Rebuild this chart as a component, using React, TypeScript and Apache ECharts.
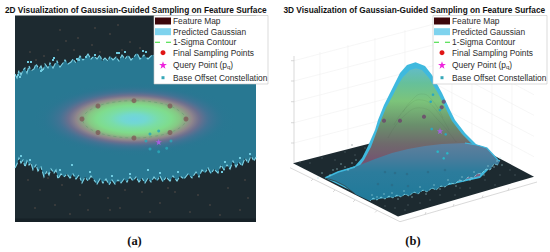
import React, { useEffect, useRef } from "react";
import * as echarts from "echarts";

type P = [number, number];

const titles = [
  "2D Visualization of Gaussian-Guided Sampling on Feature Surface",
  "3D Visualization of Gaussian-Guided Sampling on Feature Surface",
];
const legendNames = [
  "Feature Map",
  "Predicted Gaussian",
  "1-Sigma Contour",
  "Final Sampling Points",
  "Query Point (p_q)",
  "Base Offset Constellation",
];

// ---- panel (a), values in figure units
const mapFrame: P[] = [[15, 15.6], [256, 15.6], [256, 222], [15, 222]];
const mapFoot: P[] = [[15, 218.5], [256, 218.5], [256, 222], [15, 222]];
const upperEdge: P[] = [
  [15, 74], [17, 78], [19, 70], [21, 75], [23, 70], [25, 68], [27, 73], [29, 66], [31, 71], [34, 69], [36, 64], [39, 69], [41, 66],
  [43, 71], [45, 64], [48, 68], [50, 63], [53, 68], [55, 64], [57, 61], [60, 67], [63, 63], [65, 60], [68, 64], [71, 62], [73, 59],
  [76, 63], [78, 60], [80, 56], [83, 60], [86, 57], [88, 54], [91, 59], [94, 56], [97, 59], [100, 55], [102, 61], [105, 58], [108, 61],
  [110, 56], [113, 60], [116, 57], [119, 61], [122, 55], [125, 59], [128, 55], [131, 60], [134, 57], [137, 53], [140, 59], [144, 55], [148, 59],
  [152, 55], [175, 58], [200, 55], [225, 57], [256, 55],
];
const lowerEdge: P[] = [
  [15, 168], [17, 164], [19, 158], [21, 163], [23, 160], [25, 167], [27, 161], [29, 165], [31, 163], [33, 170], [36, 165], [38, 171],
  [41, 167], [44, 177], [47, 171], [49, 175], [51, 169], [54, 173], [56, 170], [58, 179], [61, 174], [64, 177], [67, 174], [70, 178],
  [73, 174], [76, 179], [79, 175], [82, 183], [85, 177], [88, 181], [91, 176], [94, 180], [97, 184], [100, 179], [103, 183], [106, 179],
  [109, 185], [112, 180], [115, 184], [118, 180], [121, 183], [124, 179], [127, 182], [130, 177], [133, 181], [136, 177], [139, 182],
  [142, 178], [145, 183], [148, 178], [151, 182], [154, 177], [157, 181], [160, 176], [163, 182], [166, 177], [170, 181], [173, 176],
  [177, 181], [180, 176], [184, 179], [188, 174], [192, 178], [196, 172], [199, 177], [202, 170], [205, 173], [208, 168], [211, 174],
  [214, 169], [218, 173], [221, 165], [224, 170], [227, 165], [230, 169], [233, 161], [236, 167], [239, 162], [242, 166], [245, 158],
  [248, 163], [251, 156], [254, 161], [256, 157],
];
const gaussianEllipse: number[][] = [[134, 119, 104, 38]];
const gaussianStops: [number, string][] = [
  [0, "#70d3e0"], [0.12, "#72d8d0"], [0.24, "#7adda6"], [0.36, "#7fdc8c"], [0.44, "#86c884"], [0.5, "#8ea486"],
  [0.56, "#90868c"], [0.63, "rgba(125,110,142,0.8)"], [0.72, "rgba(90,110,150,0.5)"], [0.86, "rgba(50,115,148,0.18)"], [1, "rgba(40,120,146,0)"],
];
const sigma2D: P[] = [
  [82, 119], [86, 113], [98, 106], [115, 102], [134, 100.7], [153, 102], [170, 106], [182, 113], [186, 119], [182, 126],
  [170, 132.5], [153, 136.5], [134, 138], [115, 136.5], [98, 132.5], [86, 126], [82, 119],
];
const sampling2D: P[] = [[82, 119], [98, 106], [134, 100.7], [170, 106], [186, 119], [170, 132.5], [134, 138], [98, 132.5]];
const constellation2D: P[] = [[150, 134], [158.7, 131], [146, 141], [171, 141], [150, 149], [158.7, 151.7], [166.7, 148.3]];
const query2D: P[] = [[158.7, 142]];
const islands2D: P[] = [
  [54, 58], [53, 60], [41, 71], [42, 70], [18, 75], [20, 77], [28, 62], [31, 62], [77, 59], [79, 60], [86, 57], [95, 55], [117, 53],
  [119, 53], [143, 51], [146, 52], [125, 52], [72, 165], [148, 170], [160, 173], [178, 172], [225, 162], [250, 154], [240, 158],
  [21, 156], [30, 160], [60, 170], [90, 172], [112, 176], [130, 174], [222, 172],
];
const specks2D: P[] = [
  [30, 52], [58, 50], [78, 38], [92, 45], [110, 34], [130, 42], [74, 50], [122, 50], [100, 52], [140, 48], [66, 41], [44, 56],
  [36, 60], [95, 28], [60, 30], [118, 25], [28, 180], [40, 190], [62, 185], [55, 205], [80, 195], [108, 198], [110, 210],
  [125, 190], [142, 192], [160, 203], [175, 192], [198, 195], [210, 205], [228, 188], [245, 180], [240, 210], [150, 212],
  [88, 210], [70, 214], [35, 208], [190, 212], [220, 215], [120, 208], [168, 188], [48, 178], [248, 198],
];

// ---- panel (b)
const floor3D: P[] = [[293, 163.3], [438, 126], [534, 176.7], [398, 216.5]];
const gaussOuter: P[] = [
  [325, 178], [338, 172], [355, 166], [362, 158], [368, 146], [375, 130], [378, 120], [384, 105], [390, 93], [395, 83],
  [400, 73], [407, 65], [415.5, 62.3], [425, 66], [432, 75], [442, 93], [449, 108], [455, 120], [465, 133], [477, 145],
  [487, 148], [498, 160], [480, 178], [400, 196], [370, 200],
];
const gaussInner: P[] = [
  [340, 175], [358, 168], [364, 160], [371, 147], [377, 131], [381, 120], [386, 108], [392, 97], [398, 85], [403, 77],
  [410, 70], [416, 68.3], [422, 70], [429, 78], [439, 95], [446, 109], [452, 121], [462, 134], [474, 146], [484, 150], [480, 176], [400, 194],
];
const moundTop: P[] = [
  [325, 178], [338, 172], [355, 167], [375, 159], [392, 153], [408, 149], [425, 146], [442, 144], [465, 143], [477, 145], [487, 148], [498, 160], [500, 161],
];
const moundFront: P[] = [
  [498, 165], [494, 164], [490, 170], [486, 169], [482, 173], [477, 174], [473, 178], [468, 177], [464, 181], [459, 180], [455, 184], [450, 183],
  [445, 187], [441, 186], [436, 190], [432, 188], [427, 192], [423, 190], [418, 194], [414, 192], [409, 196], [405, 194], [401, 197], [397, 195],
  [393, 198], [389, 196], [385, 199], [381, 197], [377, 200], [373, 198], [370, 201],
];
const moundBack: P[] = [[355, 194], [345, 186], [335, 181], [325, 178]];
const wallGrid: number[][] = [
  [294, 60.7, 438, 23], [294, 81, 438, 43.7], [294, 101.7, 438, 64.4], [294, 122.7, 438, 85.4], [294, 143, 438, 105.7],
  [438, 23, 534, 74], [438, 43.7, 534, 94.7], [438, 64.4, 534, 115.4], [438, 85.4, 534, 136.4], [438, 105.7, 534, 156.7],
  [320, 52, 320, 156.5], [348, 45, 348, 149], [375, 38, 375, 142], [405, 30, 405, 134.5], [438, 20, 438, 126],
  [452, 26, 452, 133], [472, 37, 472, 144], [492, 48, 492, 155], [512, 58, 512, 165],
];
const axisLines: number[][] = [
  [290, 167.7, 400, 221.7], [400, 221.7, 537, 182], [294, 56, 294, 163],
  [291, 60.7, 294, 60.7], [291, 81, 294, 81], [291, 101.7, 294, 101.7], [291, 122.7, 294, 122.7], [291, 143, 294, 143],
  [313, 179, 311, 181], [335, 190, 333, 192], [355, 200, 353, 202], [377, 210.5, 375, 212.5],
  [425, 214.5, 426, 212], [453, 206.5, 454, 204], [482, 198, 483, 195.5], [508, 190.5, 509, 188],
];
const peakContours: P[][] = [
  [[403, 112], [412, 100], [422, 94], [432, 100], [443, 118]],
  [[394, 125], [408, 106], [422, 100], [436, 110], [449, 130]],
  [[388, 138], [404, 116], [422, 108], [438, 120], [456, 142]],
];
const sampling3D: P[] = [[384, 120.7], [400, 120.7], [424, 116.7], [441.7, 107.3], [443.7, 101.7]];
const samplingFaint3D: P[] = [[385, 172], [395, 173], [407, 174], [378, 184], [392, 185], [408, 186], [428, 172], [445, 170]];
const constellation3D: P[] = [
  [433, 94.7], [430.7, 101.7], [440, 110], [431.7, 129], [445.7, 134.3], [437.7, 151.7], [447.3, 153.3], [443.7, 158.3],
];
const query3D: P[] = [[440, 131]];
const rimSpecks3D: P[] = [
  [330, 175], [333, 170], [337, 169], [345, 167], [352, 163], [318, 178], [322, 173], [341, 164], [348, 170], [356, 160],
  [372, 195], [377, 197], [384, 194], [392, 193], [398, 199], [404, 191], [412, 197], [420, 187], [426, 194], [434, 185],
  [440, 189], [448, 180], [456, 186], [462, 177], [470, 180], [474, 172], [484, 175], [488, 166], [494, 167], [497, 161], [502, 165], [500, 158],
];
const floorSpecks3D: P[] = [
  [310, 163], [322, 158], [335, 160], [345, 152], [355, 155], [300, 162], [365, 148], [352, 145], [395, 208], [408, 205], [420, 203], [440, 195],
  [455, 195], [470, 188], [485, 180], [500, 175], [515, 175], [405, 210], [430, 200], [385, 206], [460, 188], [510, 170], [495, 185],
];

const FONT = "Liberation Sans, Arial, sans-serif";
const STAR = "path://M5 0L6.2 3.6H10L6.9 5.8L8.1 9.5L5 7.2L1.9 9.5L3.1 5.8L0 3.6H3.8Z";
const SQUARE = "path://M0 0H1V1H0Z";
const DASHES = "path://M0 0H5V1H0ZM11 0H16V1H11Z";

const legendRows = [
  { icon: "rect", h: 7, w: 16, color: "#3d060a", center: 22 },
  { icon: "rect", h: 7, w: 16, color: "#7fd3ee", center: 32.7 },
  { icon: DASHES, h: 1, w: 16, color: "#2fd92f", center: 43.3 },
  { icon: "circle", h: 5, w: 5, color: "#e01515", center: 53.7 },
  { icon: STAR, h: 7.5, w: 7.9, color: "#ee22dd", center: 65 },
  { icon: SQUARE, h: 3, w: 3, color: "#38a8b8", center: 78.7 },
];
const legendLefts = [155, 434];

let order = 2;
function poly(name: string, pts: P[], style: any) {
  const z = order++;
  return {
    type: "custom", name, z, silent: true, coordinateSystem: "cartesian2d", encode: { x: 0, y: 1 }, data: pts, clip: false,
    renderItem: (params: any, api: any) => {
      if (params.dataIndex !== 0) return null;
      return { type: "polygon", shape: { points: pts.map((p) => api.coord(p)) }, style };
    },
  };
}
function stroke(name: string, pts: P[], style: any, smooth = 0) {
  const z = order++;
  return {
    type: "custom", name, z, silent: true, coordinateSystem: "cartesian2d", encode: { x: 0, y: 1 }, data: pts, clip: false,
    renderItem: (params: any, api: any) => {
      if (params.dataIndex !== 0) return null;
      return { type: "polyline", shape: { points: pts.map((p) => api.coord(p)), smooth }, style: { fill: "none", ...style } };
    },
  };
}
function segments(name: string, rows: number[][], color: string, lineWidth: number) {
  const z = order++;
  return {
    type: "custom", name, z, silent: true, coordinateSystem: "cartesian2d", encode: { x: 0, y: 1 }, data: rows, clip: false,
    renderItem: (_: any, api: any) => {
      const a = api.coord([api.value(0), api.value(1)]);
      const b = api.coord([api.value(2), api.value(3)]);
      return { type: "line", shape: { x1: a[0], y1: a[1], x2: b[0], y2: b[1] }, style: { stroke: color, lineWidth, fill: "none" } };
    },
  };
}
function dots(name: string, pts: P[], symbol: string, size: number, color: string, opacity = 1) {
  return {
    type: "scatter", name, z: order++, silent: true, data: pts, symbol, symbolSize: size,
    itemStyle: { color, opacity }, clip: false,
  };
}

export default function App() {
  const ref = useRef<HTMLDivElement>(null);
  useEffect(() => {
    document.body.style.margin = "0";
    document.body.style.background = "#fff";
    const chart = echarts.init(ref.current!, undefined, { renderer: "svg" });
    order = 2;

    const ellipseSeries = {
      type: "custom", name: legendNames[1], silent: true, coordinateSystem: "cartesian2d",
      encode: { x: 0, y: 1 }, data: gaussianEllipse, clip: false,
      renderItem: (_: any, api: any) => {
        const c = api.coord([api.value(0), api.value(1)]);
        const s = api.size([api.value(2), api.value(3)]);
        return {
          type: "ellipse", shape: { cx: c[0], cy: c[1], rx: s[0], ry: s[1] },
          style: { fill: new echarts.graphic.RadialGradient(0.5, 0.5, 0.5, gaussianStops.map(([offset, color]) => ({ offset, color }))) },
        };
      },
    };

    const series: any[] = [
      // panel (a)
      poly(legendNames[0], mapFrame, { fill: "#1d2a30" }),
      poly(legendNames[0], mapFoot, { fill: "#162127" }),
      dots(legendNames[0], specks2D, "rect", 1.6, "#4a4643"),
      poly(legendNames[1], [...upperEdge, ...[...lowerEdge].reverse()], { fill: "#287892" }),
      { ...ellipseSeries, z: order++ },
      stroke(legendNames[1], upperEdge, { stroke: "#7fd5e8", lineWidth: 1.1, lineDash: [7, 2, 3, 3] }),
      stroke(legendNames[1], lowerEdge, { stroke: "#7fd5e8", lineWidth: 1.1, lineDash: [6, 3, 3, 2] }),
      dots(legendNames[1], islands2D, "rect", 2, "#6fcbe0"),
      stroke(legendNames[2], sigma2D, { stroke: "rgba(80,150,100,0.55)", lineWidth: 0.7, lineDash: [3, 3] }, 0.4),
      dots(legendNames[3], sampling2D, "circle", 5, "#7d5555", 0.75),
      dots(legendNames[5], constellation2D, "circle", 3, "#2aa8b8", 0.85),
      dots(legendNames[4], query2D, STAR, 6.5, "#a55fe0"),

      // panel (b)
      segments("wall grid", wallGrid, "#f0f0f0", 0.6),
      segments("axes", axisLines, "#c8c8c8", 0.7),
      poly(legendNames[0], floor3D, { fill: "#1d2a30" }),
      dots(legendNames[0], floorSpecks3D, "rect", 1, "#5f7074"),
      poly(legendNames[1], gaussOuter, { fill: "#3fb9de" }),
      poly(legendNames[1], gaussInner, {
        fill: new echarts.graphic.LinearGradient(0, 0, 0, 1, [
          { offset: 0, color: "#62bcc6" }, { offset: 0.12, color: "#66c09a" }, { offset: 0.26, color: "#7cc47a" },
          { offset: 0.45, color: "#6a8f6c" }, { offset: 0.6, color: "#6f6a6c" }, { offset: 0.74, color: "#745470" },
          { offset: 0.9, color: "#7a6b90" }, { offset: 1, color: "#6f7f9f" },
        ]),
      }),
      ...peakContours.map((c) => stroke("surface contour", c, { stroke: "rgba(40,60,40,0.12)", lineWidth: 0.6 }, 0.5)),
      dots(legendNames[3], sampling3D, "circle", 4.2, "#6c4a6c", 0.85),
      dots(legendNames[5], constellation3D.slice(0, 5), "circle", 2.6, "#2aa8c0"),
      dots(legendNames[4], query3D, STAR, 6.5, "#a55fe0"),
      poly(legendNames[1], [...moundTop, ...moundFront, ...moundBack], {
        fill: new echarts.graphic.LinearGradient(0, 0, 0, 1, [
          { offset: 0, color: "#607f9c" }, { offset: 0.25, color: "#4a7c9c" }, { offset: 0.5, color: "#2c7c9c" }, { offset: 1, color: "#1f7a9a" },
        ]),
      }),
      stroke(legendNames[1], moundTop.slice(0, 3), { stroke: "#3fb9de", lineWidth: 1.6 }),
      stroke(legendNames[1], moundTop.slice(-5), { stroke: "#3fb9de", lineWidth: 1.2 }),
      stroke(legendNames[1], moundFront, { stroke: "#8fd8e4", lineWidth: 0.7, lineDash: [3, 1.5] }),
      stroke(legendNames[0], moundBack, { stroke: "#33302f", lineWidth: 0.7 }),
      dots(legendNames[3], samplingFaint3D, "circle", 2.5, "#2c6a84", 0.7),
      dots(legendNames[5], constellation3D.slice(5), "circle", 2.6, "#2ab8c8"),
      dots(legendNames[1], rimSpecks3D, "rect", 1.1, "#a6dce4"),
    ];

    const legends: any[] = [];
    legendLefts.forEach((left) => {
      legendRows.forEach((row, i) => {
        legends.push({
          z: 100,
          left: left + (16 - row.w) / 2, top: row.center - 5, padding: 0, itemWidth: 16, itemHeight: row.h, itemGap: 0,
          selectedMode: false,
          data: [{ name: legendNames[i], icon: row.icon, itemStyle: { color: row.color, opacity: 1 } }],
          formatter: (n: string) => (n === legendNames[4] ? "{h|Query Point (p}{s|q}{n|)}" : "{h|" + n + "}"),
          textStyle: {
            rich: {
              h: { fontFamily: FONT, fontSize: 8.4, color: "#2c2c2c", lineHeight: 10, padding: [0, 0, 0, -3] },
              n: { fontFamily: FONT, fontSize: 8.4, color: "#2c2c2c", lineHeight: 10 },
              s: { fontFamily: FONT, fontSize: 6, color: "#2c2c2c", lineHeight: 10, padding: [4, 0, 0, 0] },
            },
          },
        });
      });
    });

    const caption = (left: number, letter: string) => ({
      text: "{p|(}{b|" + letter + "}{p|)}", left, top: 234, padding: 0, textAlign: "center",
      textStyle: {
        rich: {
          p: { fontFamily: "Liberation Serif, serif", fontSize: 12.5, color: "#111" },
          b: { fontFamily: "Liberation Serif, serif", fontSize: 12.5, fontWeight: "bold", color: "#111" },
        },
      },
    });

    chart.setOption({
      animation: false,
      backgroundColor: "#fff",
      title: [
        { text: titles[0], left: 135.8, top: 6, padding: 0, textAlign: "center", textStyle: { fontFamily: FONT, fontSize: 8.3, fontWeight: "bold", color: "#111" } },
        { text: titles[1], left: 414.3, top: 6, padding: 0, textAlign: "center", textStyle: { fontFamily: FONT, fontSize: 8.3, fontWeight: "bold", color: "#111" } },
        caption(134.5, "a"),
        caption(413, "b"),
      ],
      grid: { left: 0, right: 0, top: 0, bottom: 0 },
      xAxis: { type: "value", min: 0, max: 550, show: false },
      yAxis: { type: "value", min: 0, max: 252, inverse: true, show: false },
      legend: legends,
      graphic: [
        { type: "rect", z: 99, shape: { x: 154, y: 15.5, width: 114, height: 68.5 }, style: { fill: "#fff", stroke: "#c4c4c4", lineWidth: 0.6 } },
        { type: "rect", z: 99, shape: { x: 433, y: 15.5, width: 114, height: 68.5 }, style: { fill: "#fff", stroke: "#c4c4c4", lineWidth: 0.6 } },
      ],
      series,
    });
    return () => chart.dispose();
  }, []);
  return <div ref={ref} style={{ width: 550, height: 252 }} />;
}
